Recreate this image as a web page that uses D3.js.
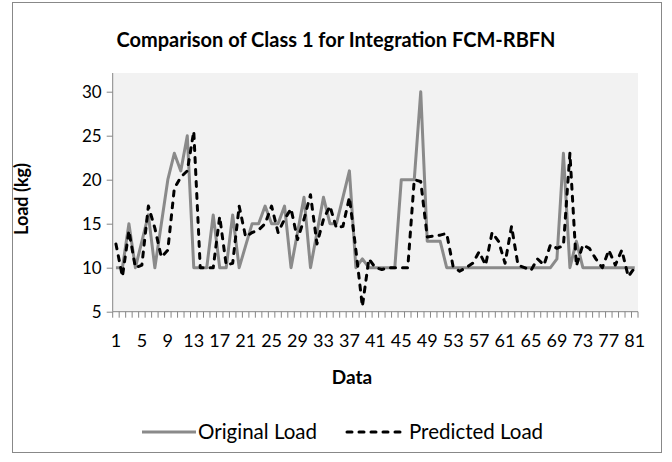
<!DOCTYPE html>
<html>
<head>
<meta charset="utf-8">
<script src="https://cdn.jsdelivr.net/npm/d3@7"></script>
<style>
  body { margin: 0; background: #fff; }
  text { font-family: Lato, "Open Sans", sans-serif; }
</style>
</head>
<body>
<div id="chart"></div>
<script>
// data
const dataIndex = d3.range(1, 82);

const originalLoad = [
  10, 10, 15, 10, 13, 16, 10, 15, 20, 23,
  21, 25, 10, 10, 10, 16, 10, 10, 16, 10,
  12.5, 15, 15, 17, 15, 15, 17, 10, 14, 18,
  10, 14, 18, 15, 15, 18, 21, 10, 11, 10,
  10, 10, 10, 10, 20, 20, 20, 30, 13, 13,
  13, 10, 10, 10, 10, 10, 10, 10, 10, 10,
  10, 10, 10, 10, 10, 10, 10, 10, 11, 23,
  10, 13, 10, 10, 10, 10, 10, 10, 10, 10,
  10
];

const predictedLoad = [
  12.7, 9, 14.2, 10, 10.3, 17, 14.5, 11.2, 12, 19,
  20.3, 21, 25.5, 10, 10, 10, 15.8, 10.3, 10.5, 17,
  13.5, 14, 14.3, 15, 17, 14, 15.5, 16.7, 13.2, 15.5,
  18.3, 12.7, 15.5, 17, 14.5, 14.7, 18, 12, 5.6, 11,
  10, 9.8, 10, 10, 10, 10, 20, 19.8, 13.5, 13.6,
  13.7, 13.9, 10.1, 9.6, 10, 10.5, 11.8, 10.3, 14, 13,
  10.5, 14.7, 10.3, 10, 9.7, 11, 10.3, 12.6, 12.2, 12.5,
  23, 10.2, 12.6, 12.2, 11, 10, 12, 10.3, 12, 9,
  10
];

const yTicks = [5, 10, 15, 20, 25, 30];
const xTickLabels = [1, 5, 9, 13, 17, 21, 25, 29, 33, 37, 41, 45, 49, 53, 57, 61, 65, 69, 73, 77, 81];

const W = 672, H = 462;
const plot = {left: 112.7, right: 638, top: 73, bottom: 311.7};
const axisColor = "#868686";

const svg = d3.select("#chart")
    .append("svg")
    .attr("width", W)
    .attr("height", H);

// outer chart border
svg.append("rect")
    .attr("x", 12.5).attr("y", 2.5)
    .attr("width", 649).attr("height", 450)
    .attr("fill", "#fff")
    .attr("stroke", "#888")
    .attr("stroke-width", 1);

// plot area background
svg.append("rect")
    .attr("x", plot.left).attr("y", plot.top)
    .attr("width", plot.right - plot.left)
    .attr("height", plot.bottom - plot.top)
    .attr("fill", "#f2f2f2");

let x = d3.scaleBand()
    .domain(dataIndex)
    .range([plot.left, plot.right]);

// 30 sits 220px above 5, the plot area runs a bit higher
let y = d3.scaleLinear()
    .domain([5, 30])
    .range([plot.bottom, 91.7]);

// y axis
let yAxis = svg.append("g")
    .attr("transform", "translate(" + plot.left + ",0)")
    .call(d3.axisLeft(y).tickValues(yTicks).tickSize(6).tickPadding(5));
yAxis.select(".domain").attr("d", "M0," + plot.top + "V" + plot.bottom);
yAxis.selectAll("line, path").attr("stroke", axisColor);
yAxis.selectAll("text")
    .attr("font-size", "17px")
    .attr("fill", "#000")
    .style("font-family", "Lato");

// x axis: tick marks between categories, labels every 4th
let xAxis = svg.append("g")
    .attr("transform", "translate(0," + plot.bottom + ")");
xAxis.append("line")
    .attr("x1", plot.left).attr("x2", plot.right)
    .attr("stroke", axisColor);
xAxis.selectAll(".tk")
    .data(dataIndex.concat([82]))
    .enter().append("line")
    .attr("class", "tk")
    .attr("x1", d => d <= 81 ? x(d) : plot.right)
    .attr("x2", d => d <= 81 ? x(d) : plot.right)
    .attr("y1", 0).attr("y2", 6)
    .attr("stroke", axisColor);
xAxis.selectAll(".lbl")
    .data(xTickLabels)
    .enter().append("text")
    .attr("class", "lbl")
    .attr("x", d => x(d) + x.bandwidth() / 2)
    .attr("y", 35)
    .attr("text-anchor", "middle")
    .attr("font-size", "18px")
    .attr("fill", "#000")
    .text(d => d);

// lines
let line = (vals) => d3.line()
    .x((d, i) => x(dataIndex[i]) + x.bandwidth() / 2)
    .y(d => y(d))(vals);

svg.append("path")
    .attr("d", line(originalLoad))
    .attr("fill", "none")
    .attr("stroke", "#8a8a8a")
    .attr("stroke-width", 3)
    .attr("stroke-linejoin", "round");

svg.append("path")
    .attr("d", line(predictedLoad))
    .attr("fill", "none")
    .attr("stroke", "#000")
    .attr("stroke-width", 3)
    .attr("stroke-dasharray", "5,7")
    .attr("stroke-linecap", "round")
    .attr("stroke-linejoin", "round");

// title and axis titles
svg.append("text")
    .attr("x", 336).attr("y", 47)
    .attr("text-anchor", "middle")
    .attr("font-size", "20px")
    .attr("font-weight", "bold")
    .text("Comparison of Class 1 for Integration FCM-RBFN");

svg.append("text")
    .attr("x", 352).attr("y", 384)
    .attr("text-anchor", "middle")
    .attr("font-size", "19px")
    .attr("font-weight", "bold")
    .text("Data");

svg.append("text")
    .attr("transform", "translate(28,199) rotate(-90)")
    .attr("text-anchor", "middle")
    .attr("font-size", "18px")
    .attr("font-weight", "bold")
    .text("Load (kg)");

// legend
let legend = svg.append("g").attr("transform", "translate(0,432)");
legend.append("line")
    .attr("x1", 142).attr("x2", 196)
    .attr("stroke", "#8a8a8a").attr("stroke-width", 3);
legend.append("text")
    .attr("x", 198).attr("y", 7)
    .attr("font-size", "20.5px")
    .text("Original Load");
legend.append("line")
    .attr("x1", 347).attr("x2", 405)
    .attr("stroke", "#000").attr("stroke-width", 3)
    .attr("stroke-dasharray", "5,7")
    .attr("stroke-linecap", "round");
legend.append("text")
    .attr("x", 409).attr("y", 7)
    .attr("font-size", "20.5px")
    .text("Predicted Load");
</script>
</body>
</html>
